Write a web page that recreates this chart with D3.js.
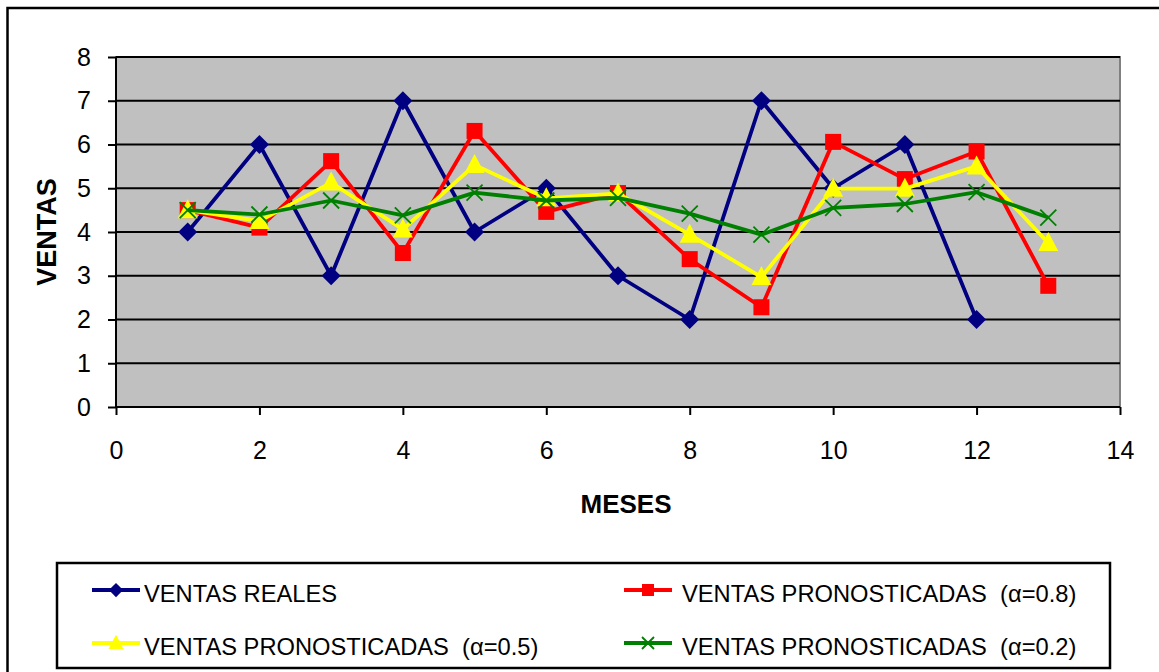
<!DOCTYPE html>
<html>
<head>
<meta charset="utf-8">
<script src="https://cdn.jsdelivr.net/npm/d3@7"></script>
<style>
  html, body { margin: 0; padding: 0; background: #fff; }
  svg { display: block; font-family: "Liberation Sans", Arial, sans-serif; }
</style>
</head>
<body>
<svg id="chart" width="1159" height="672"></svg>
<script>
// Monthly sales and exponential-smoothing forecasts
const meses = [1, 2, 3, 4, 5, 6, 7, 8, 9, 10, 11, 12];
const mesesPronostico = [1, 2, 3, 4, 5, 6, 7, 8, 9, 10, 11, 12, 13];
const ventasReales = [4, 6, 3, 7, 4, 5, 3, 2, 7, 5, 6, 2];
const pronostico08 = [4.5, 4.1, 5.62, 3.52, 6.31, 4.46, 4.89, 3.38, 2.28, 6.06, 5.21, 5.84, 2.77];
const pronostico05 = [4.5, 4.25, 5.13, 4.06, 5.53, 4.77, 4.88, 3.94, 2.97, 4.99, 4.99, 5.5, 3.75];
const pronostico02 = [4.5, 4.4, 4.72, 4.38, 4.9, 4.72, 4.78, 4.42, 3.94, 4.55, 4.64, 4.91, 4.33];
const xTicks = [0, 2, 4, 6, 8, 10, 12, 14];
const yTicks = [0, 1, 2, 3, 4, 5, 6, 7, 8];

const series = [
  { name: "VENTAS REALES", x: meses, y: ventasReales, color: "#000080", marker: "diamond" },
  { name: "VENTAS PRONOSTICADAS  (\u03b1=0.8)", x: mesesPronostico, y: pronostico08, color: "#ff0000", marker: "square" },
  { name: "VENTAS PRONOSTICADAS  (\u03b1=0.5)", x: mesesPronostico, y: pronostico05, color: "#ffff00", marker: "triangle" },
  { name: "VENTAS PRONOSTICADAS  (\u03b1=0.2)", x: mesesPronostico, y: pronostico02, color: "#008000", marker: "cross" }
];

const svg = d3.select("#chart");

// outer chart frame
svg.append("rect").attr("x", 7.5).attr("y", 8).attr("width", 1170).attr("height", 680)
  .attr("fill", "#fff").attr("stroke", "#000").attr("stroke-width", 2.5);

const plot = { left: 116, top: 57, right: 1120, bottom: 407 };
const x = d3.scaleLinear().domain([0, 14]).range([plot.left, plot.right]);
const y = d3.scaleLinear().domain([0, 8]).range([plot.bottom, plot.top]);

// plot area background
svg.append("rect").attr("x", plot.left).attr("y", plot.top)
  .attr("width", plot.right - plot.left).attr("height", plot.bottom - plot.top)
  .attr("fill", "#c0c0c0").attr("stroke", "#808080").attr("stroke-width", 2);

// horizontal gridlines
svg.append("g").selectAll("line").data(yTicks.filter(d => d > 0)).join("line")
  .attr("x1", plot.left).attr("x2", plot.right)
  .attr("y1", d => y(d)).attr("y2", d => y(d))
  .attr("stroke", "#000").attr("stroke-width", 2);

// axes
const yAxis = svg.append("g").attr("transform", `translate(${plot.left},0)`)
  .call(d3.axisLeft(y).tickValues(yTicks).tickSize(8).tickPadding(17).tickFormat(d3.format("d")));
const xAxis = svg.append("g").attr("transform", `translate(0,${plot.bottom})`)
  .call(d3.axisBottom(x).tickValues(xTicks).tickSize(8).tickPadding(26).tickFormat(d3.format("d")));
[yAxis, xAxis].forEach(a => {
  a.attr("font-size", null).attr("font-family", null);
  a.select(".domain").attr("stroke", "#000").attr("stroke-width", 2);
  a.selectAll(".tick line").attr("stroke", "#000").attr("stroke-width", 2);
  a.selectAll(".tick text").attr("fill", "#000").style("font-size", "25px")
    .style("font-family", "'Liberation Sans', Arial, sans-serif");
});
xAxis.select(".domain").attr("d", `M${plot.left},0H${plot.right}`);
yAxis.select(".domain").attr("d", `M0,${plot.bottom}V${plot.top}`);

// axis titles
svg.append("text").attr("x", 626).attr("y", 513).attr("text-anchor", "middle")
  .style("font-size", "26px").style("font-weight", "bold").text("MESES");
svg.append("text").attr("transform", "translate(56,232) rotate(-90)").attr("text-anchor", "middle")
  .style("font-size", "27px").style("font-weight", "bold").text("VENTAS");

// marker drawing
function drawMarker(g, type, color, k) {
  if (type === "diamond") {
    g.append("path").attr("d", `M0,${-9.5 * k}L${9.5 * k},0L0,${9.5 * k}L${-9.5 * k},0Z`).attr("fill", color);
  } else if (type === "square") {
    g.append("rect").attr("x", -8 * k).attr("y", -8 * k).attr("width", 16 * k).attr("height", 16 * k).attr("fill", color);
  } else if (type === "triangle") {
    g.append("path").attr("d", `M0,${-11 * k}L${10 * k},${8 * k}L${-10 * k},${8 * k}Z`).attr("fill", color);
  } else if (type === "cross") {
    const c = 8 * k;
    g.append("path").attr("d", `M${-c},${-c}L${c},${c}M${-c},${c}L${c},${-c}`)
      .attr("stroke", color).attr("stroke-width", 1.8).attr("fill", "none");
  }
}

const line = d3.line().x(d => x(d[0])).y(d => y(d[1]));
series.forEach(s => {
  const pts = s.x.map((m, i) => [m, s.y[i]]);
  svg.append("path").datum(pts).attr("d", line)
    .attr("fill", "none").attr("stroke", s.color).attr("stroke-width", 3.8)
    .attr("stroke-linejoin", "round");
  svg.append("g").selectAll("g").data(pts).join("g")
    .attr("transform", d => `translate(${x(d[0])},${y(d[1])})`)
    .each(function () { drawMarker(d3.select(this), s.marker, s.color, 1); });
});

// legend
svg.append("rect").attr("x", 57).attr("y", 563).attr("width", 1053).attr("height", 105)
  .attr("fill", "#fff").attr("stroke", "#000").attr("stroke-width", 2.5);
const legendPos = [
  { lx: 92, ly: 590, tx: 144 }, { lx: 624, ly: 590, tx: 682 },
  { lx: 92, ly: 643, tx: 144 }, { lx: 624, ly: 643, tx: 682 }
];
series.forEach((s, i) => {
  const p = legendPos[i];
  const g = svg.append("g").attr("transform", `translate(${p.lx},${p.ly})`);
  g.append("line").attr("x1", 0).attr("x2", 48).attr("y1", 0).attr("y2", 0)
    .attr("stroke", s.color).attr("stroke-width", 3.8);
  drawMarker(g.append("g").attr("transform", "translate(24,0)"), s.marker, s.color, 0.75);
  g.append("text").attr("x", p.tx - p.lx).attr("y", 12).style("font-size", "23.7px").attr("fill", "#000")
    .style("white-space", "pre").text(s.name);
});
</script>
</body>
</html>
